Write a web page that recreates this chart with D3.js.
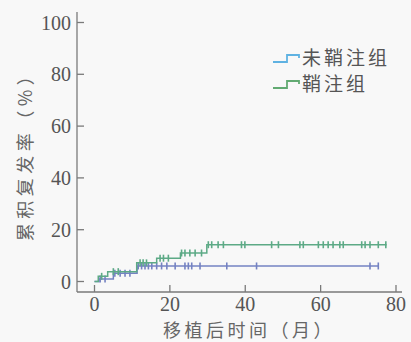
<!DOCTYPE html>
<html><head><meta charset="utf-8">
<script src="https://cdn.jsdelivr.net/npm/d3@7/dist/d3.min.js"></script>
<style>html,body{margin:0;padding:0;background:#f8f8f8;}svg{display:block;}</style>
</head><body><div id="chart"></div>
<script>
// ---- data ----
const seriesNames = ["未鞘注组", "鞘注组"];
// step points [month, cumulative relapse %]
const stepsNon = [[0,0],[1.2,1.0],[5.0,3.2],[11.3,6.0],[75.3,6.0]];
const stepsIT  = [[0,0],[1.0,2.0],[3.5,3.8],[11.2,7.2],[16.5,9.0],[22.8,11.0],[29.8,14.2],[77.5,14.2]];
// censored times (months)
const censorNon = [1.5,2.8,5.4,6.8,8.1,9.4,11.6,12.5,13.4,14.3,15.2,16.5,17.8,19.2,21.4,24.0,24.9,25.8,28.0,35.1,43.0,73.1,75.3];
const censorIT  = [1.9,5.0,6.3,12.1,12.9,13.8,17.4,18.3,19.6,23.1,24.0,25.3,26.7,28.4,30.2,31.1,32.8,34.2,39.0,39.9,47.0,48.8,54.5,55.4,59.4,60.7,62.0,63.3,65.1,66.0,70.9,71.8,73.1,75.3,77.3];
const xTicks = [0,20,40,60,80];
const yTicks = [0,20,40,60,80,100];
const xTitle = "移植后时间（月）";
const yTitle = "累积复发率（%）";

const W = 411, H = 342;
const lineColors = ["#7482c2", "#5daa86"];
const legendColors = ["#5fb2e2", "#62aa72"];
const axisColor = "#7a7a7a", textColor = "#555";

const svg = d3.select("#chart").append("svg").attr("width", W).attr("height", H)
  .style("background", "#f8f8f8");

const x = d3.scaleLinear().domain([0, 80]).range([94.5, 396]);
const y = d3.scaleLinear().domain([0, 100]).range([281.5, 22.5]);
const axisX0 = 77, axisY0 = 292;

// axes lines
svg.append("line").attr("x1", axisX0).attr("x2", axisX0).attr("y1", 12).attr("y2", axisY0)
  .attr("stroke", axisColor).attr("stroke-width", 1.3);
svg.append("line").attr("x1", axisX0).attr("x2", 402).attr("y1", axisY0).attr("y2", axisY0)
  .attr("stroke", axisColor).attr("stroke-width", 1.3);

// y ticks (inward) and labels
const gy = svg.append("g");
yTicks.forEach(v => {
  gy.append("line").attr("x1", axisX0).attr("x2", axisX0 + 7).attr("y1", y(v)).attr("y2", y(v))
    .attr("stroke", axisColor).attr("stroke-width", 1.3);
  gy.append("text").attr("x", 71).attr("y", y(v) + 7).attr("text-anchor", "end")
    .attr("font-family", "Liberation Serif, serif").attr("font-size", 20)
    .attr("fill", textColor).text(v);
});
// x ticks (inward) and labels
const gx = svg.append("g");
xTicks.forEach(v => {
  gx.append("line").attr("x1", x(v)).attr("x2", x(v)).attr("y1", axisY0).attr("y2", axisY0 - 7)
    .attr("stroke", axisColor).attr("stroke-width", 1.3);
  gx.append("text").attr("x", x(v)).attr("y", 311).attr("text-anchor", "middle")
    .attr("font-family", "Liberation Serif, serif").attr("font-size", 20)
    .attr("fill", textColor).text(v);
});

// titles
svg.append("text").attr("x", 249).attr("y", 337).attr("text-anchor", "middle")
  .attr("font-family", "Noto Sans CJK SC, sans-serif").attr("font-size", 18)
  .attr("letter-spacing", 3.5).attr("fill", "#666").text(xTitle);
svg.append("text").attr("transform", "translate(32,152) rotate(-90)").attr("text-anchor", "middle")
  .attr("font-family", "Noto Sans CJK SC, sans-serif").attr("font-size", 18)
  .attr("letter-spacing", 4.5).attr("fill", "#666").text(yTitle);

// curves
const line = d3.line().x(d => x(d[0])).y(d => y(d[1])).curve(d3.curveStepAfter);
const stepsAll = [stepsNon, stepsIT];
const censAll = [censorNon, censorIT];
function valueAt(steps, t) {
  let v = steps[0][1];
  for (const s of steps) { if (s[0] <= t) v = s[1]; }
  return v;
}
stepsAll.forEach((steps, i) => {
  svg.append("path").datum(steps).attr("d", line).attr("fill", "none")
    .attr("stroke", lineColors[i]).attr("stroke-width", 1.5);
  svg.append("g").selectAll("line").data(censAll[i]).join("line")
    .attr("x1", d => x(d)).attr("x2", d => x(d))
    .attr("y1", d => y(valueAt(steps, d)) - 3.5).attr("y2", d => y(valueAt(steps, d)) + 3.5)
    .attr("stroke", lineColors[i]).attr("stroke-width", 1.6);
});

// legend
const lg = svg.append("g");
seriesNames.forEach((name, i) => {
  const yy = 62 + i * 26;
  lg.append("path")
    .attr("d", `M273,${yy} H287 V${yy - 7} H299 V${yy - 4}`)
    .attr("fill", "none").attr("stroke", legendColors[i]).attr("stroke-width", 1.8);
  lg.append("text").attr("x", 302).attr("y", yy + 3)
    .attr("font-family", "Noto Sans CJK SC, sans-serif").attr("font-size", 19)
    .attr("letter-spacing", 3).attr("fill", "#555").text(name);
});
</script></body></html>
